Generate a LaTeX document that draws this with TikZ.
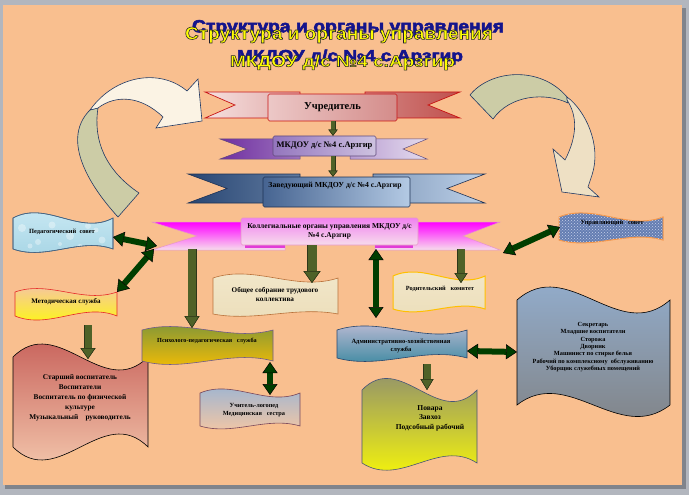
\documentclass[tikz,border=0pt]{standalone}
\usepackage{fontspec}
\setmainfont{Liberation Serif}
\newfontfamily\titlefont{Liberation Sans}
\newfontface\titleface{Liberation Sans Bold}[FakeBold=3]
\usepackage{graphicx}
\usetikzlibrary{arrows.meta,patterns}

\definecolor{peach}{RGB}{249,191,143}
\definecolor{framegray}{RGB}{178,182,190}
\definecolor{framedark}{RGB}{128,132,140}
\definecolor{ttlyellow}{RGB}{255,255,0}
\definecolor{ttlblue}{RGB}{20,20,140}
\definecolor{ttlline}{RGB}{30,30,40}
\definecolor{olivefill}{RGB}{79,98,40}
\definecolor{oliveline}{RGB}{45,55,25}
\definecolor{dkgreen}{RGB}{0,62,0}
\definecolor{arrline}{RGB}{31,56,100}
\definecolor{sage}{RGB}{204,204,166}
\definecolor{cream}{RGB}{251,243,228}
\definecolor{creamR}{RGB}{238,224,196}
\definecolor{r1A}{RGB}{245,224,223}
\definecolor{r1B}{RGB}{192,80,77}
\definecolor{r1line}{RGB}{200,20,20}
\definecolor{p1A}{RGB}{236,200,199}
\definecolor{p1B}{RGB}{212,140,138}
\definecolor{r2A}{RGB}{112,48,160}
\definecolor{r2B}{RGB}{228,220,238}
\definecolor{r2line}{RGB}{96,74,123}
\definecolor{p2A}{RGB}{148,118,190}
\definecolor{p2B}{RGB}{206,194,224}
\definecolor{r3A}{RGB}{40,70,115}
\definecolor{r3B}{RGB}{188,208,232}
\definecolor{r3line}{RGB}{30,50,85}
\definecolor{p3A}{RGB}{70,100,145}
\definecolor{p3B}{RGB}{180,202,228}
\definecolor{r4top}{RGB}{255,0,255}
\definecolor{r4bot}{RGB}{246,222,236}
\definecolor{r4line}{RGB}{230,150,200}
\definecolor{r4fold}{RGB}{225,60,215}
\definecolor{p4top}{RGB}{240,130,240}
\definecolor{p4bot}{RGB}{247,220,236}
\definecolor{pedtop}{RGB}{205,235,245}
\definecolor{pedbot}{RGB}{165,212,228}
\definecolor{pedline}{RGB}{70,100,130}
\definecolor{mettop}{RGB}{244,190,180}
\definecolor{metbot}{RGB}{255,255,0}
\definecolor{metline}{RGB}{230,40,40}
\definecolor{startop}{RGB}{192,80,77}
\definecolor{starbot}{RGB}{250,215,185}
\definecolor{psytop}{RGB}{119,147,60}
\definecolor{psybot}{RGB}{255,192,0}
\definecolor{psyline}{RGB}{110,90,140}
\definecolor{uchtop}{RGB}{149,179,215}
\definecolor{uchbot}{RGB}{250,200,160}
\definecolor{uchline}{RGB}{120,70,90}
\definecolor{parch}{RGB}{236,222,186}
\definecolor{parchlt}{RGB}{242,232,204}
\definecolor{obsline}{RGB}{185,113,58}
\definecolor{rodline}{RGB}{255,192,0}
\definecolor{admtop}{RGB}{204,192,218}
\definecolor{admbot}{RGB}{49,133,156}
\definecolor{admline}{RGB}{40,70,110}
\definecolor{povtop}{RGB}{127,127,127}
\definecolor{povbot}{RGB}{255,255,0}
\definecolor{povline}{RGB}{70,85,120}
\definecolor{sektop}{RGB}{149,179,215}
\definecolor{sekbot}{RGB}{127,127,127}
\definecolor{denim}{RGB}{100,125,178}
\definecolor{denimdot}{RGB}{200,210,235}
\definecolor{uprline}{RGB}{247,150,70}

% wave box: x1, ytop, x2, ybottom, top amplitude, bottom amplitude
\newcommand\wv[6]{(#1,#2) .. controls ({#1+(#3-#1)/3},{#2-(#5)}) and ({#1+2*(#3-#1)/3},{#2+(#5)}) .. (#3,#2) -- (#3,#4) .. controls ({#1+2*(#3-#1)/3},{#4+(#6)}) and ({#1+(#3-#1)/3},{#4-(#6)}) .. (#1,#4) -- cycle}
% ribbon wings
\newcommand\lwing[5]{(#1,#3) -- (#2,#3) -- (#2,#4) -- (#1,#4) -- ({#1+#5},{(#3+#4)/2}) -- cycle}
\newcommand\rwing[5]{(#1,#3) -- (#2,#3) -- ({#2-#5},{(#3+#4)/2}) -- (#2,#4) -- (#1,#4) -- cycle}
% outlined title text: yellow fill, dark stroke
\newcommand\outl[1]{\special{pdf:code 0.12 0.12 0.16 RG}\titleface #1}

\tikzset{
  lbl/.style={inner sep=0pt, align=center, text=black},
  panel/.style={rounded corners=1.5pt, line width=0.6pt, inner sep=0pt, align=center},
  wbox/.style={line width=0.6pt},
  bigarr/.style={draw=arrline, line width=0.6pt},
  oarr/.style n args={3}{draw=olivefill, line width=#1,
    arrows={-Triangle[length=#3,width=#2,line width=0.5pt,fill=olivefill,color=oliveline]},
    preaction={draw=oliveline, line width=#1+1pt,
      arrows={-Triangle[length=#3,width=#2,line width=0.5pt,fill=oliveline,color=oliveline]}}},
  garr/.style={draw=dkgreen, line width=6pt,
    arrows={Triangle[length=11pt,width=15pt,line width=0.5pt,fill=dkgreen,color=black]-Triangle[length=11pt,width=15pt,line width=0.5pt,fill=dkgreen,color=black]}}
}

\begin{document}
\begin{tikzpicture}[x=1pt,y=-1pt]
\useasboundingbox (0,0) rectangle (689,495);
% background frame
\fill[framegray] (0,0) rectangle (689,495);
\fill[framedark] (5,8) rectangle (686,489);
\fill[peach] (3,5) rectangle (682,485);

% title
\node[inner sep=0pt,text=ttlblue] (t1s) at (348,28) {\resizebox*{312pt}{16pt}{\titleface Структура и органы управления}};
\node[inner sep=0pt,text=ttlblue] (t2s) at (350,57) {\resizebox*{226pt}{15pt}{\titleface МКДОУ д/с №4 с.Арзгир}};
\node[inner sep=0pt,text=ttlyellow] (t1) at (339,35) {\resizebox*{308pt}{16pt}{\outl{Структура и органы управления}}};
\node[inner sep=0pt,text=ttlyellow] (t2) at (342.5,62.5) {\resizebox*{225pt}{15pt}{\outl{МКДОУ д/с №4 с.Арзгир}}};

% big curved arrows
\path[bigarr, fill=sage] (118,217) .. controls (86,182) and (62,138) .. (90,110) -- (98,108) .. controls (93,140) and (105,170) .. (139,193) -- cycle;
\path[bigarr, fill=cream] (90,110) .. controls (115,75) and (160,68) .. (187,91) -- (198,79) -- (202,121) -- (156,128) -- (163,117) .. controls (140,95) and (115,95) .. (98,108) -- cycle;
\path[bigarr, fill=sage] (470,95) .. controls (490,70) and (540,65) .. (567,97) -- (568,103) .. controls (545,92) and (510,95) .. (493,119) -- cycle;
\path[bigarr, fill=creamR] (567,97) .. controls (585,110) and (602,145) .. (592,175) -- (588,187) -- (599,197) -- (562,192) -- (553,149) -- (565,160) .. controls (578,135) and (577,115) .. (567,100) -- cycle;

% ribbon 1
\path[draw=r1line, line width=0.7pt, left color=r1A, right color=r1B!37!r1A] \lwing{205}{300}{92}{118}{30};
\path[draw=r1line, line width=0.7pt, left color=r1B!63!r1A, right color=r1B] \rwing{365}{460}{92}{118}{32};
\node[panel, draw=r1line, left color=p1A, right color=p1B, minimum width=129pt, minimum height=27pt, font=\bfseries\fontsize{10.5}{12}\selectfont] (uchr) at (332.5,107.5) {Учредитель};

% ribbon 2
\path[draw=r2line, line width=0.5pt, left color=r2A, right color=r2B!39!r2A] \lwing{220}{300}{139}{159}{27};
\path[draw=r2line, line width=0.5pt, left color=r2B!63!r2A, right color=r2B] \rwing{350}{427}{139}{159}{24};
\node[panel, draw=r2line, left color=p2A, right color=p2B, minimum width=103pt, minimum height=20pt, font=\bfseries\fontsize{8.5}{10}\selectfont] (mkd) at (324.5,146) {МКДОУ д/с №4 с.Арзгир};

% ribbon 3
\path[draw=r3line, line width=0.6pt, left color=r3A, right color=r3B!38!r3A] \lwing{188}{300}{174}{203}{39};
\path[draw=r3line, line width=0.6pt, left color=r3B!62!r3A, right color=r3B] \rwing{373}{485}{174}{203}{38};
\node[panel, draw=r3line, left color=p3A, right color=p3B, minimum width=147pt, minimum height=30pt] (zav) at (336.5,192) {};
\node[lbl, font=\bfseries\fontsize{7.7}{9}\selectfont] (zavt) at (335,186) {Заведующий МКДОУ д/с №4 с.Арзгир};

% ribbon 4
\path[draw=r4line, line width=0.5pt, top color=r4top, bottom color=r4bot] \lwing{152}{285}{222}{250}{45};
\path[draw=r4line, line width=0.5pt, top color=r4top, bottom color=r4bot] \rwing{375}{500}{222}{250}{37};
\fill[r4fold] (245,244) rectangle (285,248);
\fill[r4fold] (375,244) rectangle (413,248);
\node[panel, draw=r4line, top color=p4top, bottom color=p4bot, minimum width=177pt, minimum height=27pt, font=\bfseries\fontsize{7.5}{9}\selectfont] (kol) at (329.5,231.5) {Коллегиальные органы управления МКДОУ д/с\\№4 с.Арзгир};

% wave boxes
\path[wbox, draw=pedline, top color=pedtop, bottom color=pedbot] \wv{13}{218}{113}{249}{18}{-12};
\begin{scope}
  \clip \wv{13}{218}{113}{249}{18}{-12};
  \foreach \px/\py/\r in {22/228/4,38/242/3,52/225/3.5,70/236/4,88/226/3,102/240/3.5,30/246/2.5,80/247/3,60/244/2,96/230/2.5}{
    \fill[white,opacity=0.35] (\px,\py) circle (\r);}
\end{scope}
\path[wbox, draw=pedline] \wv{13}{218}{113}{249}{18}{-12};

\path[wbox, draw=metline, top color=mettop, bottom color=metbot] \wv{15}{292}{117}{316}{12}{-14};
\path[wbox, draw=black, top color=startop, bottom color=starbot] \wv{13}{357}{148}{447}{45}{-45};
\path[wbox, draw=psyline, top color=psytop, bottom color=psybot] \wv{142}{330}{273}{361}{12}{-12};
\path[wbox, draw=uchline, top color=uchtop, bottom color=uchbot] \wv{200}{393}{300}{426}{14}{-10};
\path[wbox, draw=obsline, top color=parchlt, bottom color=parch] \wv{213}{278}{338}{314}{14}{-8};
\path[wbox, draw=rodline, line width=1pt, top color=parchlt, bottom color=parch] \wv{393}{276}{485}{309}{14}{-10};
\path[wbox, draw=admline, top color=admtop, bottom color=admbot] \wv{337}{330}{467}{358}{14}{-12};
\path[wbox, draw=povline, top color=povtop, bottom color=povbot] \wv{362}{390}{477}{463}{40}{-25};
\path[wbox, draw=black, top color=sektop, bottom color=sekbot] \wv{517}{300}{670}{405}{45}{40};
\path[wbox, draw=uprline, line width=1pt, fill=denim, postaction={pattern=crosshatch dots, pattern color=denimdot}] \wv{559}{217}{663}{240}{14}{-10};

% texts
\node[lbl, font=\bfseries\fontsize{6.4}{7.5}\selectfont] (ped) at (62,232) {Педагогический\ \ совет};
\node[lbl, font=\bfseries\fontsize{7}{8}\selectfont] (met) at (66,302) {Методическая служба};
\node[lbl, font=\bfseries\fontsize{7.3}{10}\selectfont] (star) at (80,398) {Старший воспитатель\\Воспитатели\\Воспитатель по физической\\культуре\\Музыкальный\quad руководитель};
\node[lbl, font=\bfseries\fontsize{6.2}{7.5}\selectfont] (psy) at (207,341) {Психолого-педагогическая\ \ \ служба};
\node[lbl, font=\bfseries\fontsize{6.3}{8}\selectfont] (uch) at (254,410) {Учитель-логопед\\Медицинская\ \ \ сестра};
\node[lbl, font=\bfseries\fontsize{7.2}{9}\selectfont] (obs) at (275,294.5) {Общее собрание трудового\\коллектива};
\node[lbl, font=\bfseries\fontsize{6.3}{7.5}\selectfont] (rod) at (440,289) {Родительский\ \ \ комитет};
\node[lbl, font=\bfseries\fontsize{6.5}{8}\selectfont] (adm) at (401,346) {Административно-хозяйственная\\служба};
\node[lbl, font=\bfseries\fontsize{7.5}{9.5}\selectfont] (pov) at (430,418) {Повара\\Завхоз\\Подсобный рабочий};
\node[lbl, font=\bfseries\fontsize{6.3}{7.3}\selectfont] (sek) at (593,347) {Секретарь\\Младшие воспитатели\\Сторожа\\Дворник\\Машинист по стирке белья\\Рабочий по комплексному\ \ обслуживанию\\Уборщик служебных помещений};
\node[lbl, font=\bfseries\fontsize{6.4}{7.5}\selectfont] (upr) at (612,223) {Управляющий\ \ \ совет};

% connector end points
\coordinate (cx333) at (333,0);
\coordinate (kA) at (192,249);   \coordinate (psyT) at (192,328);
\coordinate (kB) at (312,245);   \coordinate (obsT) at (312,283);
\coordinate (kC) at (461,249);   \coordinate (rodT) at (461,283);
\coordinate (metB) at (88,325);  \coordinate (starT) at (88,359);
\coordinate (admB) at (427,364); \coordinate (povT) at (427,390);
\coordinate (kL) at (157,246);   \coordinate (pedR) at (113,237);
\coordinate (kL2) at (154,249);  \coordinate (metR) at (117,292);
\coordinate (kD) at (376,249);   \coordinate (admT) at (376,318);
\coordinate (kR) at (503,253);   \coordinate (uprL) at (560,227);
\coordinate (psyB) at (270,362); \coordinate (uchT) at (270,395);
\coordinate (admR) at (467,351); \coordinate (sekL) at (517,352);

% olive arrows
\draw[oarr={4pt}{9pt}{6pt}] (uchr.south -| cx333) -- (mkd.north -| cx333);
\draw[oarr={4pt}{9pt}{6pt}] (mkd.south -| cx333) -- (zav.north -| cx333);
\draw[oarr={8pt}{15pt}{12pt}] (kA) -- (psyT);
\draw[oarr={9pt}{17pt}{12pt}] (kB) -- (obsT);
\draw[oarr={7pt}{13pt}{10pt}] (kC) -- (rodT);
\draw[oarr={7pt}{15pt}{11pt}] (metB) -- (starT);
\draw[oarr={7pt}{13pt}{11pt}] (admB) -- (povT);

% dark green double arrows
\draw[garr] (pedR) -- (kL);
\draw[garr] (kL2) -- (metR);
\draw[garr] (kD) -- (admT);
\draw[garr] (kR) -- (uprL);
\draw[garr] (psyB) -- (uchT);
\draw[garr] (admR) -- (sekL);
\end{tikzpicture}
\end{document}
